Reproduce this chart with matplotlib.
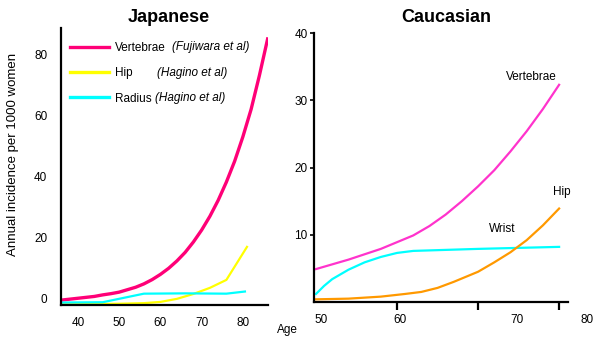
import matplotlib
matplotlib.use("Agg")
import matplotlib.pyplot as plt
from matplotlib.lines import Line2D

plt.rcParams['font.family'] = ['Liberation Sans', 'DejaVu Sans']

# ---- Japanese panel data ----
jp_vert_age = [36, 38, 40, 42, 44, 46, 48, 50, 52, 54, 56, 58, 60, 62, 64, 66,
               68, 70, 72, 74, 76, 78, 80, 82, 84, 86]
jp_vert_val = [-0.4, -0.1, 0.2, 0.5, 0.8, 1.3, 1.7, 2.2, 3.0, 3.8, 4.9, 6.3, 8.0,
               10.0, 12.4, 15.2, 18.6, 22.5, 27.0, 32.2, 38.2, 45, 53, 62, 73, 85]
jp_hip_age = [36, 50, 56, 60, 64, 68, 72, 76, 81]
jp_hip_val = [-1.8, -1.6, -1.4, -1.0, 0.0, 1.6, 3.6, 6.2, 17]
jp_rad_age = [36, 46, 56, 66, 76, 80.5]
jp_rad_val = [-1.2, -1.1, 1.7, 1.8, 1.7, 2.4]
jp_xticks = [40, 50, 60, 70, 80]
jp_yticks = [0, 20, 40, 60, 80]
jp_names = ['Vertebrae', 'Hip', 'Radius']
jp_sources = ['(Fujiwara et al)', '(Hagino et al)', '(Hagino et al)']

# ---- Caucasian panel data ----
ca_vert_age = [50, 52, 54, 56, 58, 60, 62, 64, 66, 68, 70, 72, 74, 76, 78, 80]
ca_vert_val = [4.9, 5.6, 6.3, 7.1, 7.9, 8.9, 9.9, 11.3, 13.0, 15.0, 17.2, 19.6, 22.4, 25.4, 28.7, 32.3]
ca_wrist_age = [50, 51, 52, 54, 56, 58, 60, 62, 66, 70, 75, 80]
ca_wrist_val = [1.2, 2.4, 3.4, 4.8, 5.9, 6.7, 7.3, 7.6, 7.75, 7.9, 8.05, 8.2]
ca_hip_age = [50, 54, 58, 61, 63, 65, 67, 70, 72, 74, 76, 78, 80]
ca_hip_val = [0.4, 0.5, 0.8, 1.2, 1.5, 2.1, 3.0, 4.5, 5.9, 7.4, 9.2, 11.4, 13.9]
ca_tickmarks = [60, 70, 80]
ca_label_pos = [50.6, 60.4, 74.8, 83.4]
ca_labels = ['50', '60', '70', '80']
ca_yticks = [10, 20, 30, 40]

fig = plt.figure(figsize=(6, 3.45), dpi=100)

# ---------- Left panel ----------
ax1 = fig.add_axes([0.1017, 0.116, 0.345, 0.803])
jp_colors = ['#ff0077', '#ffff00', '#00ffff']
ax1.plot(jp_vert_age, jp_vert_val, color=jp_colors[0], lw=2.4)
ax1.plot(jp_hip_age, jp_hip_val, color=jp_colors[1], lw=1.6)
ax1.plot(jp_rad_age, jp_rad_val, color=jp_colors[2], lw=1.6)
ax1.set_xticks(jp_xticks)
ax1.set_yticks(jp_yticks)
ax1.set_xlim(35.9, 86.1)
ax1.set_ylim(-2, 88.6)
for s in ['top', 'right']:
    ax1.spines[s].set_visible(False)
for s in ['left', 'bottom']:
    ax1.spines[s].set_linewidth(1.6)
ax1.tick_params(axis='x', length=0, pad=9, labelsize=8.5)
ax1.tick_params(axis='y', length=0, pad=10, labelsize=8.5)
ax1.set_ylabel('Annual incidence per 1000 women', fontsize=9.5)
ax1.yaxis.set_label_coords(-0.205, 0.545)

handles = [Line2D([], [], color=c, lw=2.4) for c in jp_colors]
ax1.legend(handles, jp_names, loc='upper left', bbox_to_anchor=(0.02, 0.965),
           frameon=False, fontsize=8.5, handlelength=3.3, handletextpad=0.55,
           labelspacing=1.11, borderaxespad=0)
src_pos = [(0.536, 0.931), (0.464, 0.838), (0.454, 0.747)]
for (sx, sy), src in zip(src_pos, jp_sources):
    ax1.text(sx, sy, src, transform=ax1.transAxes, ha='left', va='center',
             fontsize=8.5, style='italic')

fig.text(169 / 600, 1 - 18 / 345, 'Japanese', ha='center', va='center',
         fontsize=13, fontweight='bold')

# ---------- Right panel ----------
ax2 = fig.add_axes([0.5233, 0.1246, 0.4234, 0.7797])
ax2.plot(ca_vert_age, ca_vert_val, color='#ff33cc', lw=1.6)
ax2.plot(ca_wrist_age, ca_wrist_val, color='#00ffff', lw=1.6)
ax2.plot(ca_hip_age, ca_hip_val, color='#ff9900', lw=1.6)
ax2.set_xticks(ca_tickmarks)
ax2.set_xticklabels([])
ax2.set_yticks(ca_yticks)
ax2.set_xlim(49.75, 81.1)
ax2.set_ylim(0, 40)
for s in ['top', 'right']:
    ax2.spines[s].set_visible(False)
for s in ['left', 'bottom']:
    ax2.spines[s].set_linewidth(1.6)
ax2.tick_params(axis='x', length=5.5, width=1.6, direction='out')
ax2.tick_params(axis='y', length=3, width=1.2, pad=1.5, labelsize=8.5)
xtrans = ax2.get_xaxis_transform()
for pos, lab in zip(ca_label_pos, ca_labels):
    ax2.text(pos, -0.067, lab, transform=xtrans, ha='center', va='center',
             fontsize=8.5, clip_on=False)

ax2.text(76.6, 33.5, 'Vertebrae', ha='center', va='center', fontsize=8.5)
ax2.text(80.3, 16.3, 'Hip', ha='center', va='center', fontsize=8.5)
ax2.text(73.0, 10.8, 'Wrist', ha='center', va='center', fontsize=8.5)

fig.text(446 / 600, 1 - 18 / 345, 'Caucasian', ha='center', va='center',
         fontsize=13, fontweight='bold')
fig.text(287 / 600, 1 - 330 / 345, 'Age', ha='center', va='center', fontsize=8.5)

fig.savefig('out.png', dpi=100)
